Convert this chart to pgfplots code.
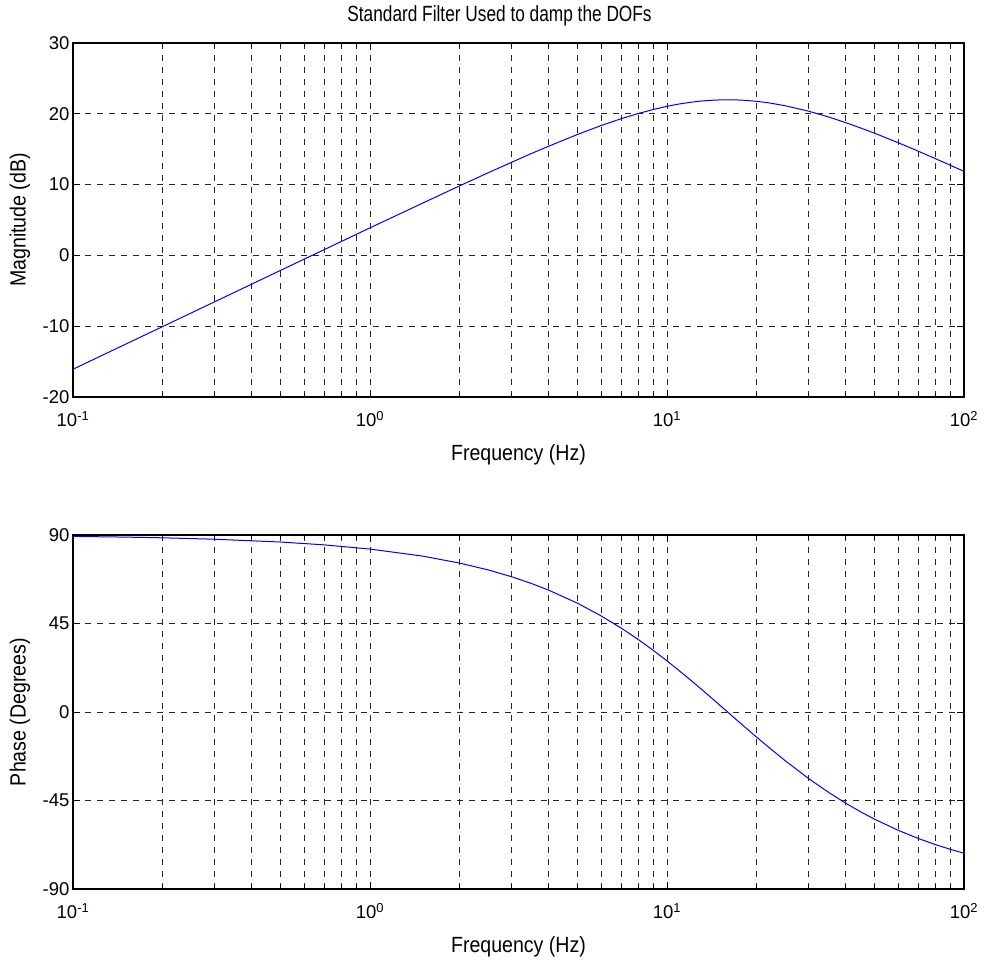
\documentclass[border=0pt]{standalone}
\usepackage{fontspec}
\setmainfont{Liberation Sans}
\newfontfamily\labfont[FakeStretch=0.89]{Liberation Sans}
\newfontfamily\titfont[FakeStretch=0.785]{Liberation Sans}
\usepackage{pgfplots}
\pgfplotsset{compat=1.18}
\begin{document}
\begin{tikzpicture}
\useasboundingbox (-73pt,-567pt) rectangle (911pt,397pt);
\begin{axis}[at={(0pt,0pt)}, anchor=south west,
    scale only axis, width=891pt, height=354pt,
    xmode=log, xmin=0.1, xmax=100,
    xtick={0.1,1,10,100},
    xticklabels={10\textsuperscript{-1},10\textsuperscript{0},10\textsuperscript{1},10\textsuperscript{2}},
    minor xtick={0.2,0.3,0.4,0.5,0.6,0.7,0.8,0.9,2,3,4,5,6,7,8,9,20,30,40,50,60,70,80,90},
    tick align=inside,
    major tick length=7pt, minor tick length=4pt,
    xmajorgrids, xminorgrids, ymajorgrids,
    grid style={black!85, line width=0.7pt, dash pattern=on 6pt off 6pt},
    minor grid style={black!85, line width=0.7pt, dash pattern=on 6pt off 6pt},
    axis line style={line width=1.2pt},
    every tick/.style={black, line width=0.8pt},
    ticklabel style={font=\fontsize{18.5}{21}\selectfont},
    x tick label style={yshift=-11pt},
    label style={font=\labfont\fontsize{22}{25}\selectfont},
    xlabel style={at={(axis description cs:0.5,-0.164)}, anchor=center},
    ylabel style={at={(axis description cs:-0.0595,0.5)}, anchor=center},
    xlabel={Frequency (Hz)},
  ymin=-20, ymax=30, ytick={-20,-10,0,10,20,30},
  yticklabels={-20,-10,0,10,20,30},
  ylabel={Magnitude (dB)},
  title={Standard Filter Used to damp the DOFs},
  title style={font=\titfont\fontsize{22}{25}\selectfont, at={(axis description cs:0.4787,1.06)}, anchor=center},
]
\addplot[color={rgb,255:red,0;green,0;blue,255}, line width=1pt] table {
f m
0.1 -16.08
0.15 -12.56
0.2 -10.07
0.3 -6.55
0.5 -2.11
0.7 0.80
1 3.89
1.5 7.36
2 9.81
2.5 11.67
3 13.16
3.5 14.40
4 15.43
5 17.09
6 18.34
7 19.30
8 20.04
9 20.61
10 21.06
11 21.39
12 21.62
13 21.80
14 21.90
15 21.96
16 21.98
17 21.97
18 21.92
20 21.77
22 21.55
25 21.14
30 20.37
35 19.55
40 18.75
45 17.98
50 17.26
60 15.92
70 14.74
80 13.68
90 12.73
100 11.87
};
\end{axis}
\begin{axis}[at={(0pt,-492pt)}, anchor=south west,
    scale only axis, width=891pt, height=354pt,
    xmode=log, xmin=0.1, xmax=100,
    xtick={0.1,1,10,100},
    xticklabels={10\textsuperscript{-1},10\textsuperscript{0},10\textsuperscript{1},10\textsuperscript{2}},
    minor xtick={0.2,0.3,0.4,0.5,0.6,0.7,0.8,0.9,2,3,4,5,6,7,8,9,20,30,40,50,60,70,80,90},
    tick align=inside,
    major tick length=7pt, minor tick length=4pt,
    xmajorgrids, xminorgrids, ymajorgrids,
    grid style={black!85, line width=0.7pt, dash pattern=on 6pt off 6pt},
    minor grid style={black!85, line width=0.7pt, dash pattern=on 6pt off 6pt},
    axis line style={line width=1.2pt},
    every tick/.style={black, line width=0.8pt},
    ticklabel style={font=\fontsize{18.5}{21}\selectfont},
    x tick label style={yshift=-11pt},
    label style={font=\labfont\fontsize{22}{25}\selectfont},
    xlabel style={at={(axis description cs:0.5,-0.164)}, anchor=center},
    ylabel style={at={(axis description cs:-0.0595,0.5)}, anchor=center},
    xlabel={Frequency (Hz)},
  ymin=-90, ymax=90, ytick={-90,-45,0,45,90},
  yticklabels={-90,-45,0,45,90},
  ylabel={Phase (Degrees)},
]
\addplot[color={rgb,255:red,0;green,0;blue,255}, line width=1pt] table {
f p
0.1 89.28
0.15 88.93
0.2 88.57
0.3 87.85
0.5 86.42
0.7 84.99
1 82.85
1.5 79.29
2 75.75
2.5 72.24
3 68.76
3.5 65.32
4 61.93
5 55.29
6 48.87
7 42.74
8 36.87
9 31.28
10 25.99
11 20.98
12 16.26
13 11.82
14 7.62
15 3.70
16 0
17 -3.48
18 -6.74
20 -12.68
22 -17.94
25 -24.76
30 -33.86
35 -40.86
40 -46.40
45 -50.86
50 -54.51
60 -60.14
70 -64.25
80 -67.38
90 -69.84
100 -71.82
};
\end{axis}
\end{tikzpicture}
\end{document}
